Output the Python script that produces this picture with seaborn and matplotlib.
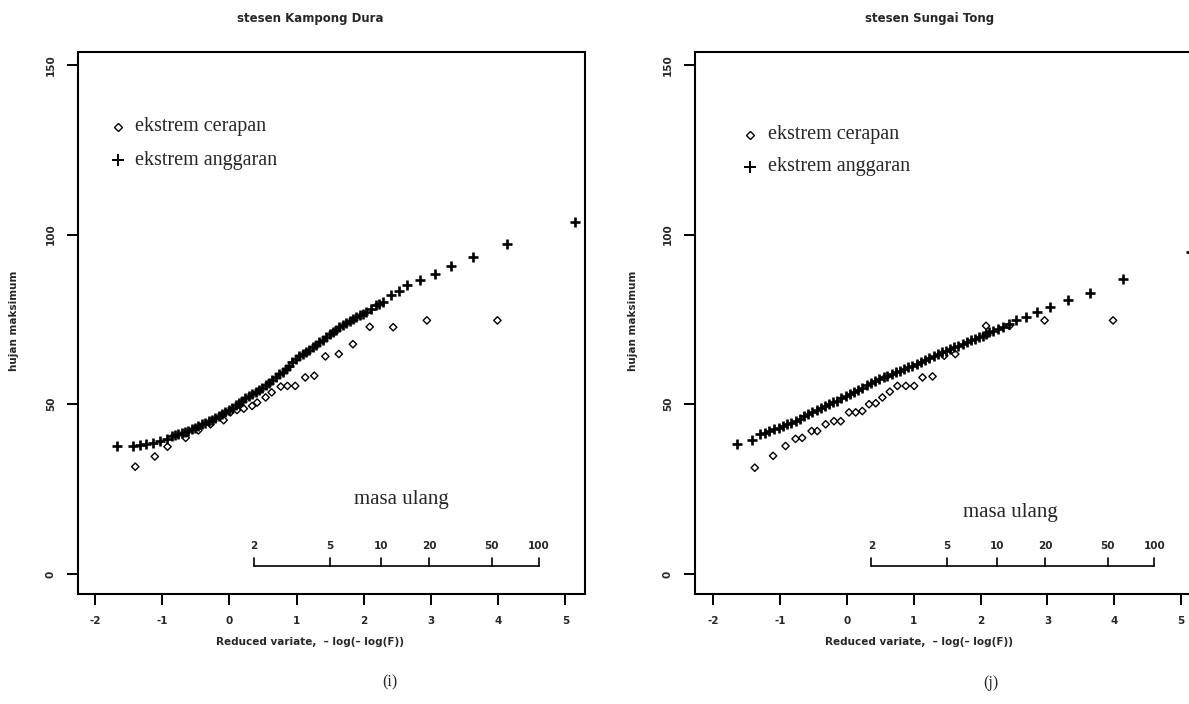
import numpy as np
import pandas as pd
import matplotlib
matplotlib.use("Agg")
import matplotlib.pyplot as plt
import seaborn as sns

sns.set_theme(style="white")
plt.rcParams["font.family"] = ["DejaVu Sans"]

# ---- stesen Kampong Dura ----
kd_obs_x = [-1.402, -1.111, -0.922, -0.652, -0.462, -0.282, -0.087, 0.013, 0.112, 0.213,
            0.337, 0.412, 0.538, 0.628, 0.763, 0.862, 0.978, 1.127, 1.262, 1.427,
            1.627, 1.837, 2.087, 2.436, 2.937, 3.987]
kd_obs_y = [31.6, 34.6, 37.5, 40.1, 42.3, 44.1, 45.3, 47.6, 48.3, 48.7,
            49.5, 50.5, 52.0, 53.5, 55.2, 55.4, 55.4, 57.9, 58.4, 64.1,
            64.8, 67.7, 72.8, 72.7, 74.7, 74.7]

kd_est_x = [-1.672, -1.436, -1.336, -1.237, -1.136, -1.036, -0.937, -0.862, -0.81, -0.762,
            -0.71, -0.661, -0.61, -0.562, -0.51, -0.462, -0.41, -0.361, -0.31, -0.262,
            -0.21, -0.162, -0.11, -0.061, -0.01, 0.037, 0.09, 0.138, 0.19, 0.238,
            0.29, 0.337, 0.39, 0.438, 0.49, 0.538, 0.59, 0.637, 0.69, 0.738,
            0.79, 0.838, 0.89, 0.937, 0.99, 1.037, 1.09, 1.138, 1.19, 1.237,
            1.29, 1.337, 1.39, 1.438, 1.49, 1.537, 1.59, 1.637, 1.69, 1.738,
            1.79, 1.837, 1.89, 1.937, 1.99, 2.037, 2.11, 2.177, 2.23, 2.286,
            2.397, 2.526, 2.637, 2.837, 3.051, 3.297, 3.627, 4.126, 5.145]
kd_est_y = [37.7, 37.7, 37.9, 38.2, 38.7, 39.1, 39.8, 40.7, 40.9, 41.2,
            41.4, 41.7, 42.1, 42.6, 43.1, 43.6, 44.1, 44.6, 45.0, 45.5,
            46.0, 46.6, 47.1, 47.7, 48.3, 49.0, 49.7, 50.5, 51.1, 51.7,
            52.3, 53.0, 53.6, 54.2, 54.9, 55.6, 56.3, 57.1, 58.0, 58.8,
            59.6, 60.5, 61.4, 62.3, 63.2, 64.1, 64.8, 65.5, 66.1, 66.8,
            67.5, 68.2, 69.0, 69.8, 70.6, 71.4, 72.0, 72.7, 73.3, 73.9,
            74.5, 75.2, 75.7, 76.2, 76.7, 77.3, 78.2, 79.1, 79.5, 80.0,
            82.3, 83.5, 85.0, 86.5, 88.5, 90.7, 93.4, 97.3, 103.6]

# ---- stesen Sungai Tong ----
st_obs_x = [-1.376, -1.102, -0.916, -0.766, -0.667, -0.526, -0.442, -0.316, -0.192, -0.091,
            0.033, 0.133, 0.232, 0.333, 0.433, 0.532, 0.643, 0.757, 0.883, 1.007,
            1.132, 1.282, 1.457, 1.622, 2.082, 2.432, 2.957, 3.981]
st_obs_y = [31.3, 34.8, 37.7, 39.8, 40.1, 42.1, 42.1, 44.1, 45.0, 45.0,
            47.6, 47.6, 48.0, 50.0, 50.3, 52.0, 53.7, 55.4, 55.4, 55.4,
            57.9, 58.2, 64.3, 64.8, 73.1, 73.1, 74.7, 74.7]

st_est_x = [-1.642, -1.417, -1.291, -1.23, -1.166, -1.09, -1.016, -0.96, -0.897, -0.83,
            -0.766, -0.70, -0.642, -0.58, -0.517, -0.45, -0.391, -0.33, -0.267, -0.20,
            -0.142, -0.08, -0.016, 0.05, 0.108, 0.17, 0.232, 0.30, 0.358, 0.42,
            0.483, 0.55, 0.607, 0.67, 0.733, 0.80, 0.858, 0.92, 0.982, 1.05,
            1.108, 1.17, 1.232, 1.30, 1.357, 1.42, 1.483, 1.55, 1.607, 1.67,
            1.732, 1.80, 1.858, 1.92, 1.982, 2.03, 2.087, 2.13, 2.181, 2.26,
            2.331, 2.43, 2.532, 2.682, 2.841, 3.042, 3.306, 3.642, 4.130, 5.145]
st_est_y = [38.2, 39.6, 41.2, 41.6, 42.0, 42.6, 43.1, 43.6, 44.1, 44.6,
            45.0, 45.7, 46.4, 47.0, 47.6, 48.2, 48.8, 49.4, 50.0, 50.6,
            51.1, 51.8, 52.5, 53.1, 53.7, 54.3, 54.9, 55.6, 56.2, 56.9,
            57.5, 58.0, 58.4, 58.9, 59.4, 59.9, 60.4, 60.9, 61.3, 61.9,
            62.4, 63.0, 63.6, 64.2, 64.7, 65.3, 65.8, 66.3, 66.8, 67.3,
            67.7, 68.3, 68.8, 69.3, 69.8, 70.2, 70.7, 71.2, 71.7, 72.2,
            72.7, 73.7, 74.7, 75.7, 77.1, 78.6, 80.8, 82.9, 87.0, 95.0]

stations = ["stesen Kampong Dura", "stesen Sungai Tong"]
captions = ["(i)", "(j)"]
return_periods = [2, 5, 10, 20, 50, 100]
y_ticks = [0, 50, 100, 150]
x_ticks = [-2, -1, 0, 1, 2, 3, 4, 5]
legend_labels = ["ekstrem cerapan", "ekstrem anggaran"]

panels = [
    dict(obs=pd.DataFrame({"x": kd_obs_x, "y": kd_obs_y}),
         est=pd.DataFrame({"x": kd_est_x, "y": kd_est_y})),
    dict(obs=pd.DataFrame({"x": st_obs_x, "y": st_obs_y}),
         est=pd.DataFrame({"x": st_est_x, "y": st_est_y})),
]

fig = plt.figure(figsize=(11.89, 7.04), dpi=100)
fig.patch.set_facecolor("white")

axes_rects = [[0.0656, 0.1563, 0.4264, 0.7699],
              [0.5845, 0.1563, 0.4264, 0.7699]]
xlims = [(-2.254, 5.29), (-2.27, 5.31)]
title_x = [0.261, 0.782]
xlabel_x = [0.261, 0.773]
ylabel_x = [0.012, 0.532]
caption_x = [0.328, 0.833]
legend_pos = [(0.079, 0.112, 0.862, 0.800), (0.108, 0.144, 0.847, 0.788)]
masa_pos = [(2.56, 21.9), (2.45, 18.0)]

tick_font = dict(family="DejaVu Sans", weight="bold", size=7.5)
serif = ["Liberation Serif", "DejaVu Serif"]

for i, p in enumerate(panels):
    ax = fig.add_axes(axes_rects[i])
    ax.set_facecolor("white")
    # fitted (estimated) extremes
    sns.scatterplot(data=p["est"], x="x", y="y", ax=ax, marker="+", s=55,
                    color="black", linewidth=1.9, zorder=3)
    # observed extremes
    sns.scatterplot(data=p["obs"], x="x", y="y", ax=ax, marker="D", s=14,
                    facecolors="none", edgecolors="black", linewidth=1.0, zorder=4)

    ax.set_xlim(*xlims[i])
    ax.set_ylim(-5.9, 153.8)
    ax.set_xticks(x_ticks)
    ax.set_yticks(y_ticks)
    ax.set_xticklabels([str(t) for t in x_ticks], fontdict=tick_font)
    ax.set_yticklabels([str(t) for t in y_ticks], fontdict=tick_font, rotation=90, va="center")
    ax.tick_params(axis="both", direction="out", length=8, width=1.4, color="black",
                   bottom=True, left=True, pad=8)
    for s in ax.spines.values():
        s.set_visible(True)
        s.set_color("black")
        s.set_linewidth(1.5)
    ax.set_xlabel("")
    ax.set_ylabel("")

    # legend drawn as marker + text
    mx, tx, y1, y2 = legend_pos[i]
    ax.plot([mx], [y1], marker="D", ms=4, mfc="none", mec="black", mew=1.0,
            transform=ax.transAxes, clip_on=False)
    ax.plot([mx], [y2], marker="+", ms=8, color="black", mew=1.4,
            transform=ax.transAxes, clip_on=False)
    ax.text(tx, y1, legend_labels[0], transform=ax.transAxes, va="center", ha="left",
            family=serif, fontsize=14.5)
    ax.text(tx, y2, legend_labels[1], transform=ax.transAxes, va="center", ha="left",
            family=serif, fontsize=14.5)

    # return-period scale on the Gumbel reduced variate
    rp_pos = [-np.log(-np.log(1 - 1 / t)) for t in return_periods]
    ax.plot([rp_pos[0], rp_pos[-1]], [2.4, 2.4], color="black", lw=1.2)
    for t, xp in zip(return_periods, rp_pos):
        ax.plot([xp, xp], [2.4, 4.6], color="black", lw=1.2)
        ax.text(xp, 8.3, str(t), ha="center", va="center", **tick_font)
    mx_, my_ = masa_pos[i]
    ax.text(mx_, my_, "masa ulang", ha="center", va="center", family=serif, fontsize=15)

    fig.text(title_x[i], 0.974, stations[i], ha="center", va="center",
             family="DejaVu Sans", weight="bold", size=8.5)
    fig.text(xlabel_x[i], 0.088, "Reduced variate,  \u2013 log(\u2013 log(F))", ha="center",
             va="center", family="DejaVu Sans", weight="bold", size=7.5)
    fig.text(ylabel_x[i], 0.544, "hujan maksimum", ha="center", va="center", rotation=90,
             family="DejaVu Sans", weight="bold", size=7.5)
    fig.text(caption_x[i], 0.030, captions[i], ha="center", va="center",
             family=serif, fontsize=11.5)

fig.savefig("out.png", dpi=100, facecolor="white")
